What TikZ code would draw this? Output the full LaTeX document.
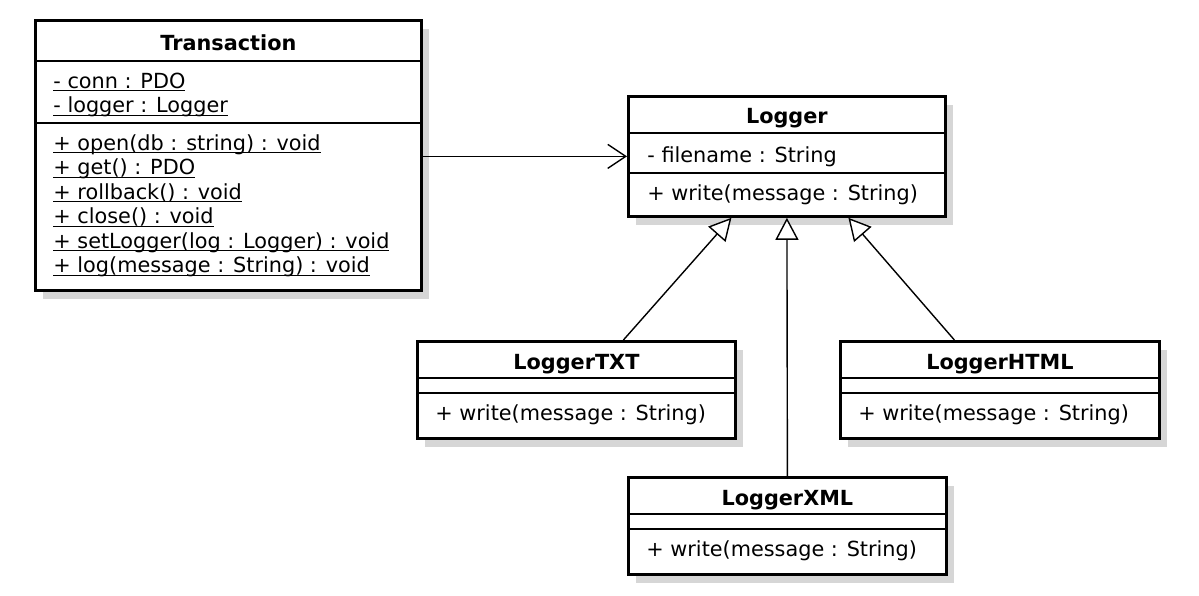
\documentclass[tikz,border=0pt]{standalone}
\usepackage{fontspec}
\setmainfont{DejaVu Sans}
\usetikzlibrary{arrows.meta,shadows}
\newcommand\uln[1]{\setbox0\hbox{#1}\rlap{\copy0}\rule[-1.6pt]{\wd0}{0.6pt}}
\tikzset{
  classbox/.style={draw, line width=1.4pt, anchor=north west, inner sep=0pt, fill=white,
    drop shadow={shadow xshift=4pt, shadow yshift=-4.5pt, fill=black!16, opacity=1}},
  compsep/.style={line width=0.9pt},
  classname/.style={anchor=base, inner sep=0pt, font=\fontsize{10.4}{12.25}\selectfont\bfseries},
  member/.style={anchor=base west, inner sep=0pt, font=\fontsize{10.4}{12.25}\selectfont},
  link/.style={line width=0.7pt}
}
\begin{document}
\begin{tikzpicture}[x=0.5pt,y=-0.5pt]
\useasboundingbox (0,0) rectangle (1199,595);
% class boxes
\node[classbox, minimum width=193pt, minimum height=135pt] (tr) at (34,19) {};
\node[classbox, minimum width=158.5pt, minimum height=60pt] (lg) at (627,95) {};
\node[classbox, minimum width=159pt, minimum height=48.5pt] (txt) at (416,340) {};
\node[classbox, minimum width=159.5pt, minimum height=48.5pt] (html) at (839,340) {};
\node[classbox, minimum width=159pt, minimum height=48.5pt] (xml) at (627,476) {};
% compartments
\draw[compsep] ([yshift=-21pt]tr.north west) -- ([yshift=-21pt]tr.north east);
\draw[compsep] ([yshift=-52pt]tr.north west) -- ([yshift=-52pt]tr.north east);
\draw[compsep] ([yshift=-19pt]lg.north west) -- ([yshift=-19pt]lg.north east);
\draw[compsep] ([yshift=-39pt]lg.north west) -- ([yshift=-39pt]lg.north east);
\foreach \b in {txt,html,xml} {
  \draw[compsep] ([yshift=-19pt]\b.north west) -- ([yshift=-19pt]\b.north east);
  \draw[compsep] ([yshift=-26.5pt]\b.north west) -- ([yshift=-26.5pt]\b.north east);
}
% Transaction
\node[classname] (trT) at ([yshift=-15.5pt]tr.north) {Transaction};
\foreach \m [count=\i] in {- conn : PDO, - logger : Logger}
  \node[member] (tra\i) at ([xshift=9.5pt, yshift={-34.5pt-(\i-1)*12.25pt}]tr.north west) {\uln{\m}};
\foreach \m [count=\i] in {+ open(db : string) : void, + get() : PDO, + rollback() : void,
    + close() : void, + setLogger(log : Logger) : void, + log(message : String) : void}
  \node[member] (trm\i) at ([xshift=9.5pt, yshift={-65.5pt-(\i-1)*12.25pt}]tr.north west) {\uln{\m}};
% Logger
\node[classname] (lgT) at ([yshift=-14pt]lg.north) {Logger};
\node[member] (lga) at ([xshift=10pt, yshift=-33.5pt]lg.north west) {- filename : String};
\node[member] (lgm) at ([xshift=10pt, yshift=-52.5pt]lg.north west) {+ write(message : String)};
% subclasses
\node[classname] (txtT) at ([yshift=-14.5pt]txt.north) {LoggerTXT};
\node[member] (txtm) at ([xshift=9.5pt, yshift=-40pt]txt.north west) {+ write(message : String)};
\node[classname] (htmlT) at ([yshift=-14.5pt]html.north) {LoggerHTML};
\node[member] (htmlm) at ([xshift=9.5pt, yshift=-40pt]html.north west) {+ write(message : String)};
\node[classname] (xmlT) at ([yshift=-14.5pt]xml.north) {LoggerXML};
\node[member] (xmlm) at ([xshift=9.5pt, yshift=-40pt]xml.north west) {+ write(message : String)};
% relations
\path[draw,link,-{Straight Barb[length=9pt,width=12pt]}] (lg.west -| tr.east) -- (lg.west);
\path[draw,link,-{Triangle[fill=white,length=11pt,width=11.5pt]}] ([xshift=23.5pt]txt.north) -- ([xshift=-27.75pt]lg.south);
\path[draw,link,-{Triangle[fill=white,length=11pt,width=11.5pt]}] (xml.north) -- (lg.south);
\path[draw,link,-{Triangle[fill=white,length=11pt,width=11.5pt]}] ([xshift=-22.75pt]html.north) -- ([xshift=30.75pt]lg.south);
\end{tikzpicture}
\end{document}
